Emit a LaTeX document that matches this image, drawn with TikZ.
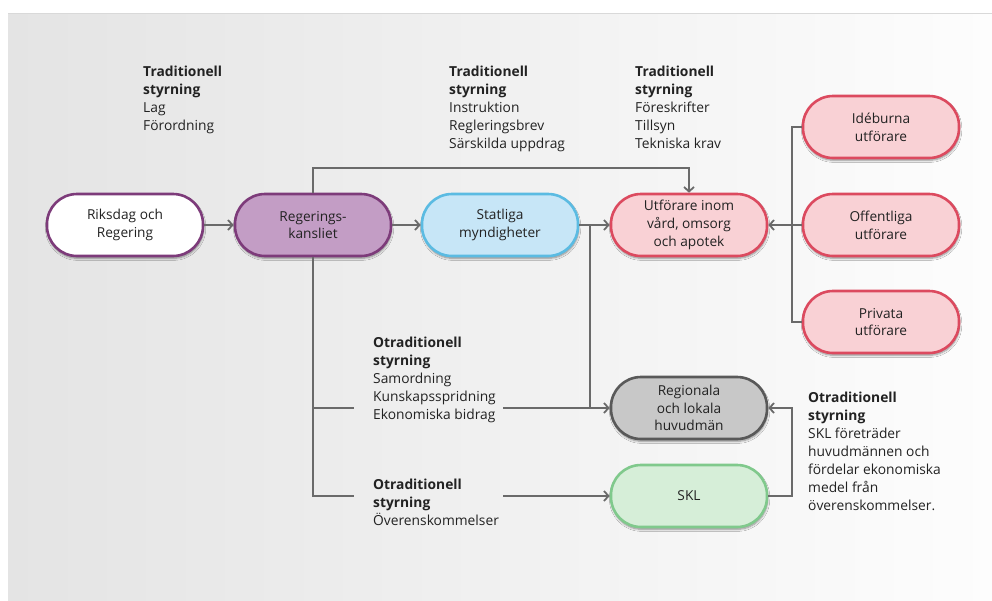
\documentclass[tikz,border=0pt]{standalone}
\usepackage{fontspec}
\setmainfont{Open Sans}
\usetikzlibrary{arrows.meta,shadows.blur}

\definecolor{purpleB}{HTML}{7D3B7A}
\definecolor{purpleF}{HTML}{C39DC5}
\definecolor{blueB}{HTML}{5BBBE2}
\definecolor{blueF}{HTML}{C7E6F7}
\definecolor{redB}{HTML}{DC4A5F}
\definecolor{redF}{HTML}{F9D1D5}
\definecolor{grayB}{HTML}{595959}
\definecolor{grayF}{HTML}{C8C8C8}
\definecolor{greenB}{HTML}{80C98C}
\definecolor{greenF}{HTML}{D6EED8}
\definecolor{linec}{HTML}{6A6A6A}
\definecolor{txt}{HTML}{222222}
\definecolor{panelL}{HTML}{E4E4E4}
\definecolor{panelR}{HTML}{FDFDFD}

\tikzset{
  box/.style={draw, line width=2.6pt, rounded corners=30pt,
    minimum width=156pt, minimum height=62pt, inner sep=2pt,
    align=center, text=txt, font=\fontsize{13.7}{17.8}\selectfont,
    blur shadow={shadow xshift=0.6pt, shadow yshift=-2.2pt,
      shadow blur steps=6, shadow opacity=45}},
  conn/.style={draw=linec, line width=1.8pt},
  tip/.style={-{Straight Barb[length=4.5pt,width=10pt]}},
  note/.style={anchor=north west, inner sep=0pt, align=left, text=txt,
    font=\fontsize{13.8}{18}\selectfont}
}

\begin{document}
\begin{tikzpicture}[x=1pt,y=-1pt]
\useasboundingbox (0,0) rectangle (992,600);
% backdrop panel
\fill[white] (0,0) rectangle (992,600);
\shade[left color=panelL, right color=panelR] (8,13) rectangle (992,600);
\draw[black!15, line width=0.8pt] (8,13.4) -- (992,13.4);

% main chain
\node[box, draw=purpleB, fill=white] (riks) at (125,225) {Riksdag och\\Regering};
\node[box, draw=purpleB, fill=purpleF] (rk) at (313,225) {Regerings-\\kansliet};
\node[box, draw=blueB, fill=blueF] (stat) at (500,225) {Statliga\\myndigheter};
\node[box, draw=redB, fill=redF] (utf) at (689,225) {Utförare inom\\vård, omsorg\\och apotek};

% providers
\node[box, draw=redB, fill=redF] (ide) at (881,127) {Idéburna\\utförare};
\node[box, draw=redB, fill=redF] (off) at (881,225) {Offentliga\\utförare};
\node[box, draw=redB, fill=redF] (priv) at (881,322) {Privata\\utförare};

% principals
\node[box, draw=grayB, fill=grayF] (reg) at (689,408) {Regionala\\och lokala\\huvudmän};
\node[box, draw=greenB, fill=greenF] (skl) at (689,496) {SKL};

% governance notes
\node[note] (n1) at (143,66) {\textbf{Traditionell}\\\textbf{styrning}\\Lag\\Förordning};
\node[note] (n2) at (449,66) {\textbf{Traditionell}\\\textbf{styrning}\\Instruktion\\Regleringsbrev\\Särskilda uppdrag};
\node[note] (n3) at (635,66) {\textbf{Traditionell}\\\textbf{styrning}\\Föreskrifter\\Tillsyn\\Tekniska krav};
\node[note] (n4) at (373,337) {\textbf{Otraditionell}\\\textbf{styrning}\\Samordning\\Kunskapsspridning\\Ekonomiska bidrag};
\node[note] (n5) at (373,479) {\textbf{Otraditionell}\\\textbf{styrning}\\Överenskommelser};
\node[note] (n6) at (808,392) {\textbf{Otraditionell}\\\textbf{styrning}\\SKL företräder\\huvudmännen och\\fördelar ekonomiska\\medel från\\överenskommelser.};

% connector helper points
\coordinate (topbend) at (313,168);
\coordinate (split) at (590,225);
\coordinate (midL) at (313,408);
\coordinate (midA) at (354,408);
\coordinate (midB) at (503,408);
\coordinate (midJ) at (590,408);
\coordinate (lowL) at (313,496);
\coordinate (lowA) at (354,496);
\coordinate (lowB) at (503,496);
\coordinate (sklR) at (792,496);
\coordinate (provT) at (792,127);
\coordinate (provM) at (792,225);
\coordinate (provB) at (792,322);

% connectors
\draw[conn, tip] (riks) -- (rk);
\draw[conn, tip] (rk) -- (stat);
\draw[conn, tip] (stat) -- (utf);
\draw[conn, tip] (rk.north) -- (topbend) -| (utf.north);
\draw[conn] (rk.south) -- (lowL) -- (lowA);
\draw[conn] (midL) -- (midA);
\draw[conn] (split) -- (midJ);
\draw[conn, tip] (midB) -- (reg.west);
\draw[conn, tip] (lowB) -- (skl.west);
\draw[conn, tip] (skl.east) -- (sklR) |- (reg.east);
\draw[conn] (ide.west) -- (provT) -- (provB) -- (priv.west);
\draw[conn] (off.west) -- (provM);
\draw[conn, tip] (provM) -- (utf.east);
\end{tikzpicture}
\end{document}
